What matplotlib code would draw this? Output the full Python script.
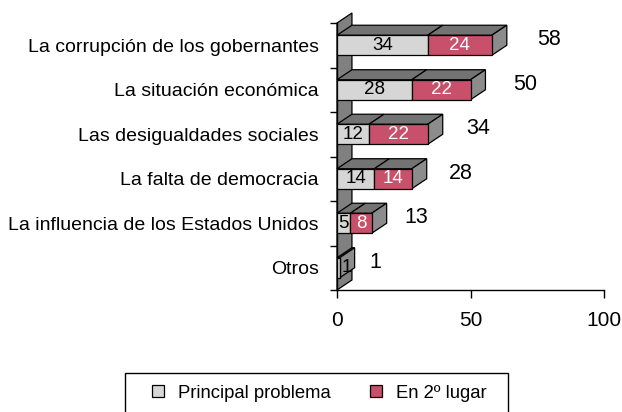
import numpy as np
import matplotlib
matplotlib.use('Agg')
import matplotlib.pyplot as plt
from matplotlib.patches import Polygon, Patch, Rectangle

plt.rcParams['font.family'] = ['Liberation Sans', 'DejaVu Sans']

categories = ['La corrupción de los gobernantes', 'La situación económica',
              'Las desigualdades sociales', 'La falta de democracia',
              'La influencia de los Estados Unidos', 'Otros']
principal = [34, 28, 12, 14, 5, 1]
segundo = [24, 22, 22, 14, 8, 0]
totals = [58, 50, 34, 28, 13, 1]
series_names = ['Principal problema', 'En 2º lugar']

grey_front = '#d6d6d6'
red_front = '#c8506b'
top_col = '#737373'
side_col = '#8c8c8c'
wall_col = '#808080'

fig = plt.figure(figsize=(6.22, 4.12), dpi=100)
ax = fig.add_axes([337/622, 1-290/412, 267/622, 267/412])

ind = np.arange(len(categories))
h = 0.45        # front face height
dx = 5.6        # depth in x units
dy = 0.225      # depth in category units

ax.set_xlim(0, 100)
ax.set_ylim(5.5, -0.5)

# back wall
wall = Polygon([(0, -0.5), (0, 5.5), (dx, 5.5 - dy), (dx, -0.5 - dy)],
               closed=True, facecolor=wall_col, edgecolor='black', lw=0.9,
               clip_on=False, zorder=1)
ax.add_patch(wall)

p_bar = ax.barh(ind, principal, h, color=grey_front, edgecolor='black', lw=0.9, zorder=4)
s_bar = ax.barh(ind, segundo, h, left=principal, color=red_front, edgecolor='black', lw=0.9, zorder=4)

# top and side faces
for i in ind:
    yt = i - h/2
    yb = i + h/2
    segs = [(0, principal[i]), (principal[i], principal[i] + segundo[i])]
    for a, b in segs:
        if b - a <= 0:
            continue
        ax.add_patch(Polygon([(a, yt), (b, yt), (b + dx, yt - dy), (a + dx, yt - dy)],
                             closed=True, facecolor=top_col, edgecolor='black',
                             lw=0.9, clip_on=False, zorder=3))
    e = totals[i]
    ax.add_patch(Polygon([(e, yt), (e + dx, yt - dy), (e + dx, yb - dy), (e, yb)],
                         closed=True, facecolor=side_col, edgecolor='black',
                         lw=0.9, clip_on=False, zorder=3))

# value labels
for i in ind:
    if principal[i] > 0:
        xp = principal[i]/2 if principal[i] > 2 else principal[i] + dx/2
        ax.text(xp, i, str(principal[i]), ha='center', va='center',
                fontsize=13.5, color='black', zorder=6)
    if segundo[i] > 0:
        ax.text(principal[i] + segundo[i]/2, i, str(segundo[i]), ha='center', va='center',
                fontsize=13.5, color='white', zorder=6)
    # Excel spreads the total labels slightly
    ax.text(totals[i]*1.1 + 11, i - 0.12, str(totals[i]), ha='left', va='center',
            fontsize=15.5, color='black', clip_on=False)

for s in ['top', 'right']:
    ax.spines[s].set_visible(False)
ax.spines['left'].set_linewidth(1)
ax.spines['bottom'].set_linewidth(1)
ax.spines['left'].set_zorder(2)

ax.set_xticks([0, 50, 100])
ax.set_xticklabels(['0', '50', '100'], fontsize=15)
ax.tick_params(axis='x', direction='out', length=6, width=1, pad=9)

ax.set_yticks(ind)
ax.set_yticklabels(categories, fontsize=14)
ax.tick_params(axis='y', which='major', length=0, pad=13)
ax.set_yticks(np.arange(-0.5, 6, 1), minor=True)
ax.tick_params(axis='y', which='minor', direction='out', length=5, width=1)

# legend box runs past the bottom edge
fig.patches.append(Rectangle((125/622, -0.1), 383/622, 1-373/412 + 0.1,
                             transform=fig.transFigure, facecolor='white',
                             edgecolor='black', lw=1, zorder=0))
handles = [Patch(facecolor=grey_front, edgecolor='black', lw=0.9),
           Patch(facecolor=red_front, edgecolor='black', lw=0.9)]
leg = fig.legend(handles, series_names, loc='center left', ncol=2,
                 bbox_to_anchor=(152/622, 1-393/412), frameon=False,
                 borderaxespad=0, borderpad=0, fontsize=13.3,
                 handlelength=0.65, handleheight=0.65, handletextpad=0.75,
                 columnspacing=2.15)

fig.savefig('out.png', dpi=100)
